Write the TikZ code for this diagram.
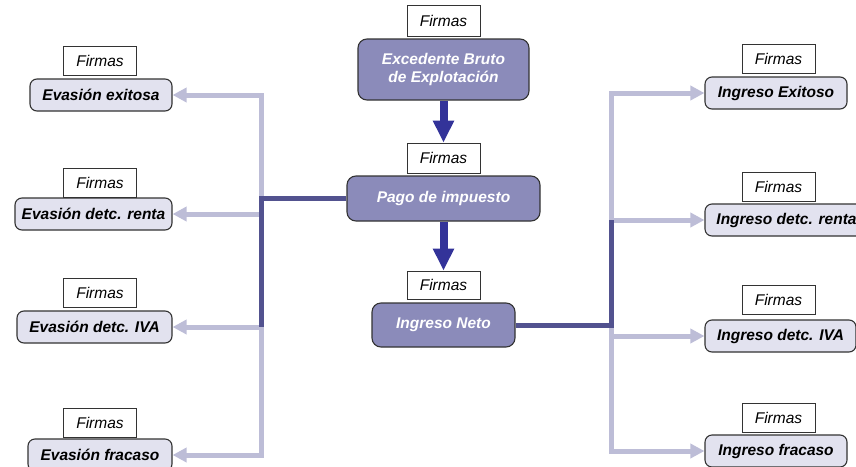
\documentclass[tikz,border=0pt]{standalone}
\usepackage{fontspec}
\setmainfont{Liberation Sans}
\usetikzlibrary{arrows.meta}
\definecolor{mainfill}{HTML}{8B8BBA}
\definecolor{leaffill}{HTML}{E2E2EF}
\definecolor{edge}{HTML}{333333}
\definecolor{branch}{HTML}{BDBDD7}
\definecolor{trunk}{HTML}{52528F}
\definecolor{flow}{HTML}{333399}
\tikzset{
  lbl/.style={draw=edge, line width=0.8pt, fill=white, inner sep=0pt,
    minimum width=73pt, minimum height=29pt,
    font=\fontsize{15.5}{18}\selectfont\itshape},
  leaf/.style={draw=edge, line width=1.1pt, fill=leaffill, rounded corners=7pt,
    inner sep=0pt, minimum height=32pt,
    font=\fontsize{15.5}{18}\selectfont\bfseries\itshape},
  mainbox/.style={draw=edge, line width=1.1pt, fill=mainfill, rounded corners=9pt,
    inner sep=0pt, text=white, align=center,
    font=\fontsize{15.5}{18}\selectfont\bfseries\itshape},
  branchline/.style={draw=branch, line width=5pt,
    -{Triangle[width=14pt,length=14pt]}},
  trunkline/.style={draw=trunk, line width=5pt},
  flowarrow/.style={draw=flow, line width=8pt,
    -{Triangle[width=20pt,length=22pt]}}
}
\begin{document}
\begin{tikzpicture}[x=1pt,y=-1pt]
\path[use as bounding box] (0,0) rectangle (856,466);

% centre column
\node[lbl, minimum height=31pt] (cf1) at (443.5,21) {Firmas};
\node[mainbox, minimum width=171pt, minimum height=61pt] (ebe) at (443.5,69.5)
  {Excedente Bruto\\de Explotación};
\node[lbl, minimum height=30pt] (cf2) at (443.5,158) {Firmas};
\node[mainbox, minimum width=193pt, minimum height=45pt] (pago) at (443.5,198.5)
  {Pago de impuesto};
\node[lbl, minimum height=28pt] (cf3) at (443.5,285) {Firmas};
\node[mainbox, minimum width=143pt, minimum height=44pt] (neto) at (443.5,325)
  {Ingreso Neto};

% left column
\node[lbl] (lf1) at (100,60.5) {Firmas};
\node[leaf, minimum width=142pt] (ev1) at (101,95) {Evasión exitosa};
\node[lbl] (lf2) at (100,183) {Firmas};
\node[leaf, minimum width=157pt] (ev2) at (93.5,214) {Evasión detc. renta};
\node[lbl] (lf3) at (100,292.5) {Firmas};
\node[leaf, minimum width=155pt] (ev3) at (94.5,327) {Evasión detc. IVA};
\node[lbl] (lf4) at (100,423) {Firmas};
\node[leaf, minimum width=144pt] (ev4) at (100,455) {Evasión fracaso};

% right column
\node[lbl] (rf1) at (778.5,58.5) {Firmas};
\node[leaf, minimum width=142pt] (in1) at (776,93) {Ingreso Exitoso};
\node[lbl] (rf2) at (778.5,187) {Firmas};
\node[leaf, minimum width=163pt] (in2) at (786.5,220) {Ingreso detc. renta};
\node[lbl] (rf3) at (778.5,300) {Firmas};
\node[leaf, minimum width=151pt] (in3) at (780.5,336) {Ingreso detc. IVA};
\node[lbl] (rf4) at (778.5,417.5) {Firmas};
\node[leaf, minimum width=142pt] (in4) at (776,451) {Ingreso fracaso};

% vertical flow
\draw[flowarrow] (ebe.south) -- (cf2.north);
\draw[flowarrow] (pago.south) -- (cf3.north);

% junctions of the two trees
\coordinate (lj) at (261,198.5);
\coordinate (rj) at (611,325);

% left tree
\draw[branchline] (lj) |- (ev1.east);
\draw[branchline] (lj) |- (ev2.east);
\draw[branchline] (lj) |- (ev3.east);
\draw[branchline] (lj) |- (ev4.east);
\draw[trunkline] (pago.west) -- (lj) -- (lj |- ev3.east);

% right tree
\draw[branchline] (rj) |- (in1.west);
\draw[branchline] (rj) |- (in2.west);
\draw[branchline] (rj) |- (in3.west);
\draw[branchline] (rj) |- (in4.west);
\draw[trunkline] (neto.east) -- (rj) -- (rj |- in2.west);
\end{tikzpicture}
\end{document}
